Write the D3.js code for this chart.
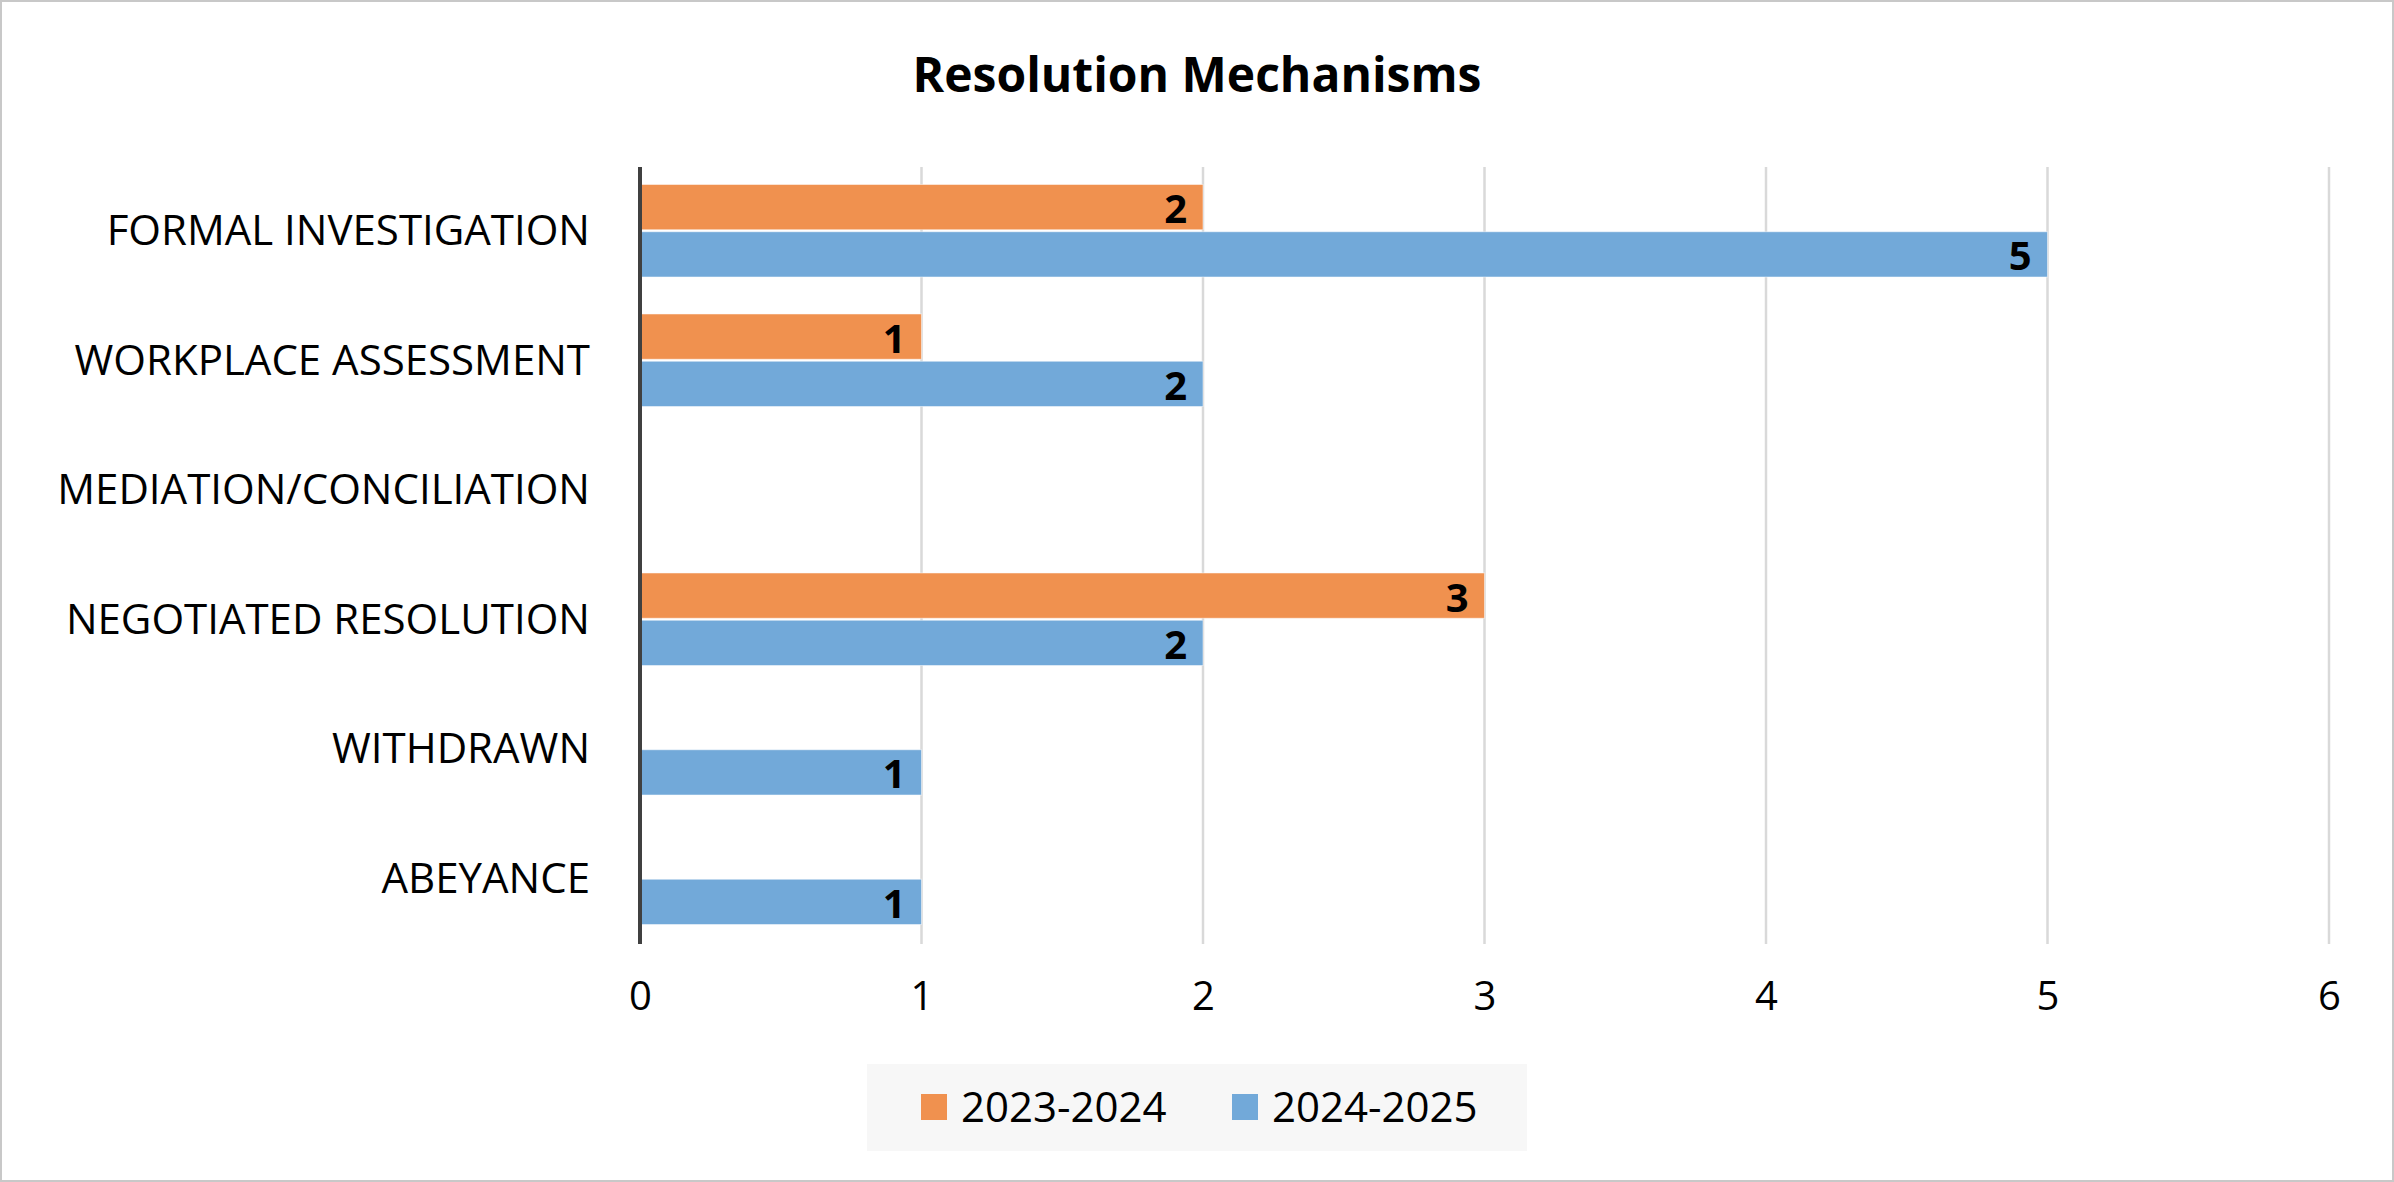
<!DOCTYPE html><html><head><meta charset="utf-8"><script src="https://cdn.jsdelivr.net/npm/d3@7"></script>
<style>body{margin:0;background:#fff}text{font-family:"Open Sans","Noto Sans",sans-serif}</style></head><body>
<svg id="c" width="2394" height="1182"></svg>
<script>
const categories=["FORMAL INVESTIGATION","WORKPLACE ASSESSMENT","MEDIATION/CONCILIATION","NEGOTIATED RESOLUTION","WITHDRAWN","ABEYANCE"];
const series=["2023-2024","2024-2025"];
const values2324=[2,1,0,3,0,0];
const values2425=[5,2,0,2,1,1];
const ticks=[0,1,2,3,4,5,6];
const colors=["#F0914F","#72A9D9"];
const svg=d3.select("#c");
svg.append("rect").attr("x",1).attr("y",1).attr("width",2392).attr("height",1180).attr("fill","#fff").attr("stroke","#c8c8c8").attr("stroke-width",2);
svg.append("text").attr("x",1197).attr("y",92).attr("text-anchor","middle").attr("font-size",48).attr("font-weight","bold").text("Resolution Mechanisms");
const x=d3.scaleLinear().domain([0,6]).range([640,2329]);
const y=d3.scaleBand().domain(categories).range([167,944]).paddingInner(0.27).paddingOuter(0.135);
const y2=d3.scaleBand().domain(series).range([0,y.bandwidth()]);
const g=svg.append("g");
g.selectAll(".grid").data(ticks.slice(1)).join("line").attr("x1",d=>x(d)).attr("x2",d=>x(d)).attr("y1",167).attr("y2",944).attr("stroke","#d9d9d9").attr("stroke-width",2.5);
const data=[values2324,values2425];
data.forEach((vals,si)=>{
  const rows=categories.map((c,i)=>({c,v:vals[i]})).filter(d=>d.v>0);
  g.selectAll(".b"+si).data(rows).join("rect").attr("x",x(0)).attr("y",d=>y(d.c)+y2(series[si])).attr("width",d=>x(d.v)-x(0)).attr("height",y2.bandwidth()-2).attr("fill",colors[si]).attr("stroke","#fff").attr("stroke-opacity",0.5);
  g.selectAll(".l"+si).data(rows).join("text").attr("x",d=>x(d.v)-16).attr("y",d=>y(d.c)+y2(series[si])+y2.bandwidth()/2+15).attr("text-anchor","end").attr("font-size",40).attr("font-weight","bold").text(d=>d.v);
});
g.append("line").attr("x1",x(0)).attr("x2",x(0)).attr("y1",167).attr("y2",944).attr("stroke","#404040").attr("stroke-width",4);
const xa=svg.append("g").attr("transform","translate(0,944)").call(d3.axisBottom(x).tickValues(ticks).tickFormat(d3.format("d")).tickSize(0).tickPadding(38));
xa.select(".domain").remove();xa.selectAll("text").attr("font-size",40).attr("fill","#000").attr("font-family","Open Sans");
const ya=svg.append("g").attr("transform","translate(640,0)").call(d3.axisLeft(y).tickSize(0).tickPadding(50));
ya.select(".domain").remove();ya.selectAll("text").attr("font-size",42).attr("fill","#000").attr("font-family","Open Sans");
const lg=svg.append("g");
lg.append("rect").attr("x",867).attr("y",1064).attr("width",660).attr("height",87).attr("fill","#f7f7f7");
const lx=[921,1232];
series.forEach((s,i)=>{
  lg.append("rect").attr("x",lx[i]).attr("y",1094).attr("width",26).attr("height",26).attr("fill",colors[i]);
  lg.append("text").attr("x",lx[i]+40).attr("y",1122).attr("font-size",42).text(s);
});
</script></body></html>
